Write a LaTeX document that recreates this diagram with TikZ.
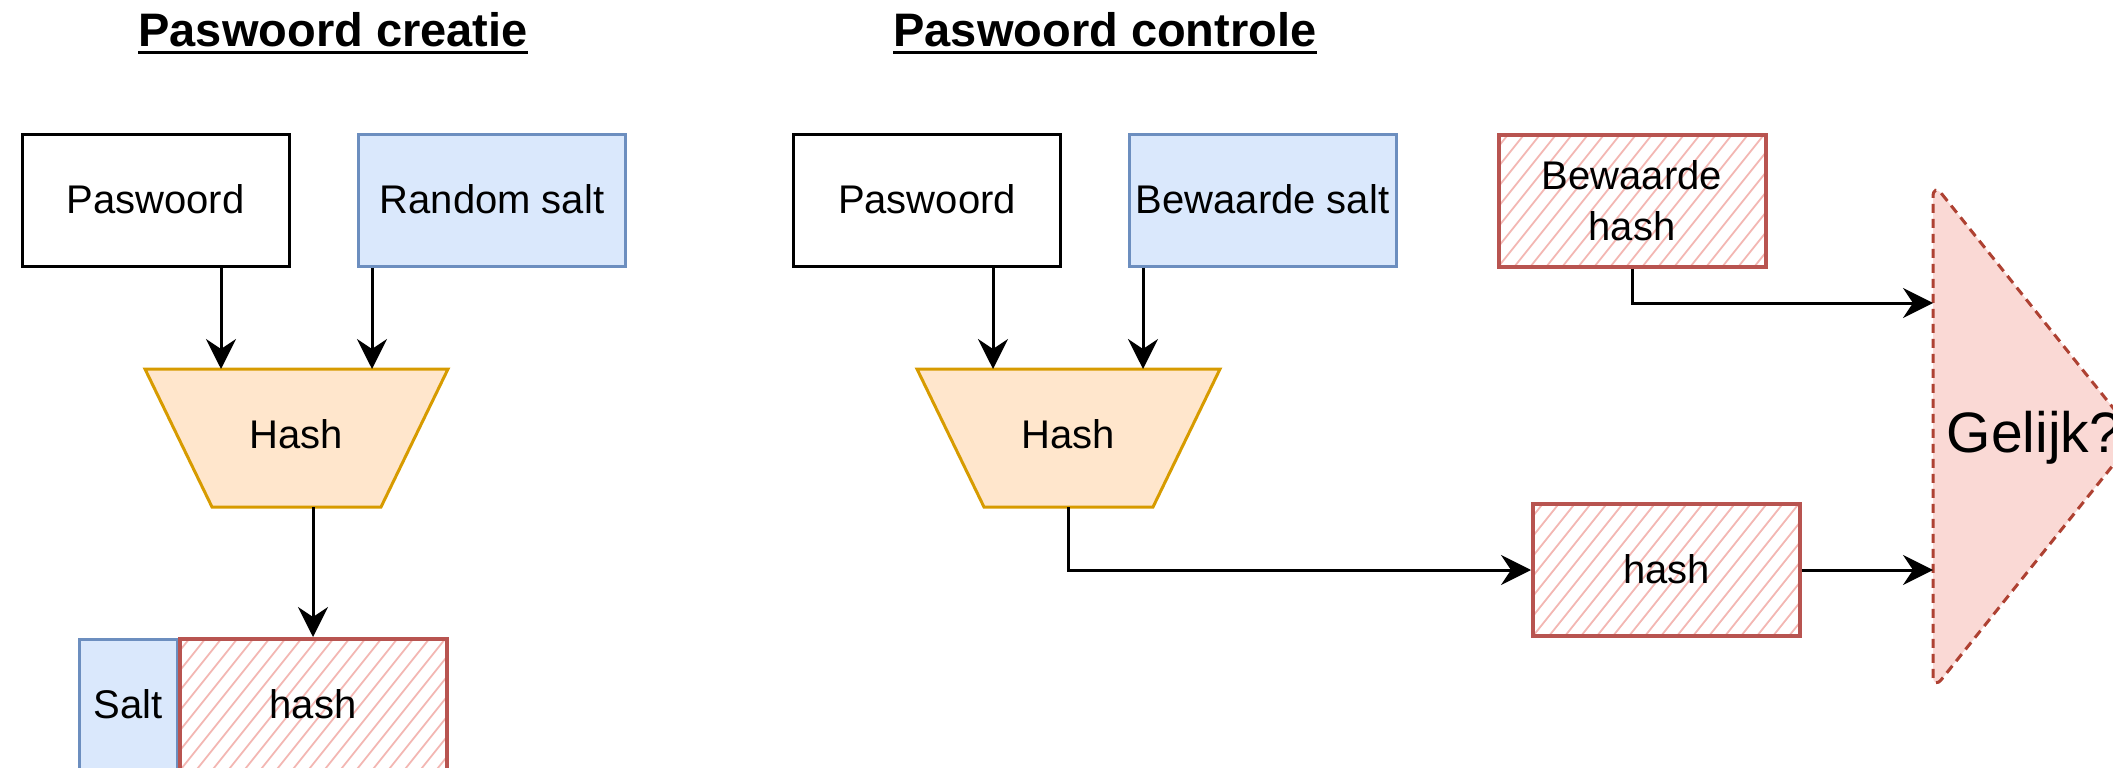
\documentclass[tikz,border=0pt]{standalone}
\usepackage{fontspec}
\setmainfont{Liberation Sans}
\usetikzlibrary{arrows.meta}

\definecolor{bluefill}{HTML}{DAE8FC}
\definecolor{bluedraw}{HTML}{6C8EBF}
\definecolor{orangefill}{HTML}{FFE6CC}
\definecolor{orangedraw}{HTML}{D79B00}
\definecolor{reddraw}{HTML}{B85450}
\definecolor{redhatch}{HTML}{F3B7B3}
\definecolor{pinkfill}{HTML}{FAD9D5}
\definecolor{darkred}{HTML}{AE4132}

\tikzset{
  lbl/.style={font=\fontsize{40}{51}\selectfont},
  oneline/.style={text height=36pt, text depth=8.5pt},
  box/.style={rectangle, draw, line width=3pt, minimum width=267pt,
    minimum height=132pt, inner sep=0pt, lbl},
  plainbox/.style={box, oneline},
  saltbox/.style={box, oneline, fill=bluefill, draw=bluedraw},
  hashbox/.style={box, draw=reddraw, line width=4pt,
    path picture={
      \foreach \k in {-10,...,20}
        \draw[redhatch, line width=1.8pt]
          ([xshift={\k*16pt}]path picture bounding box.south west) -- ++(120,-150);
    }},
  trap/.style={fill=orangefill, draw=orangedraw, line width=3pt, line join=miter},
  gate/.style={fill=pinkfill, draw=darkred, line width=3pt,
    dash pattern=on 9pt off 6pt, rounded corners=14pt},
  title/.style={font=\fontsize{47}{56}\selectfont\bfseries, inner sep=0pt, anchor=base},
  arr/.style={line width=3pt, -{Stealth[length=30pt, width=30pt, inset=10pt]}},
}

\begin{document}
\begin{tikzpicture}[x=1pt, y=-1pt]
\useasboundingbox (0,0) rectangle (2113,768);
\begin{scope}
\clip (0,0) rectangle (2113,768);

% ---------- titles ----------
\node[title] (t1) at (333,47) {Paswoord creatie};
\draw[line width=3pt] ([yshift=-6pt]t1.base west) -- ([yshift=-6pt]t1.base east);
\node[title] (t2) at (1105,47) {Paswoord controle};
\draw[line width=3pt] ([yshift=-6pt]t2.base west) -- ([yshift=-6pt]t2.base east);

% ---------- creation ----------
\node[plainbox] (pw1) at (155.5,200) {Paswoord};
\node[saltbox] (rs) at (492,200) {Random salt};

\draw[trap] (145,369) -- (448,369) -- (381,507) -- (212,507) -- cycle;
\node[lbl, oneline, inner sep=0pt] (h1) at (296.5,435) {Hash};
\coordinate (in1) at (221,369);
\coordinate (in2) at (372,369);
\coordinate (out1) at (313,507);

\node[saltbox, minimum width=98pt] (salt) at (128,705) {Salt};
\node[hashbox, oneline] (hl) at (313,705) {hash};

\draw[arr] (pw1.south -| in1) -- (in1);
\draw[arr] (rs.south -| in2) -- (in2);
\draw[arr] (out1) -- (hl.north);

% ---------- verification ----------
\node[plainbox] (pw2) at (927,200) {Paswoord};
\node[saltbox] (bs) at (1262.5,200) {Bewaarde salt};

\draw[trap] (917,369) -- (1220,369) -- (1153,507) -- (984,507) -- cycle;
\node[lbl, oneline, inner sep=0pt] (h2) at (1068,435) {Hash};
\coordinate (in3) at (993,369);
\coordinate (in4) at (1143,369);
\coordinate (out2) at (1068,507);

\node[hashbox, align=center] (bh) at (1632,200.5) {Bewaarde\\hash};
\node[hashbox, oneline] (hr) at (1666.5,570) {hash};

\draw[gate] (1933,183) -- (2136,436.5) -- (1933,690) -- cycle;
\node[font=\fontsize{57}{68}\selectfont, inner sep=0pt, anchor=base] (eq) at (2034,452) {Gelijk?};
\coordinate (gin1) at (1933,303);
\coordinate (gin2) at (1933,570);

\draw[arr] (pw2.south -| in3) -- (in3);
\draw[arr] (bs.south -| in4) -- (in4);
\draw[arr] (out2) |- (hr.west);
\draw[arr] (bh.south) |- (gin1);
\draw[arr] (hr.east) -- (gin2);
\end{scope}
\end{tikzpicture}
\end{document}
